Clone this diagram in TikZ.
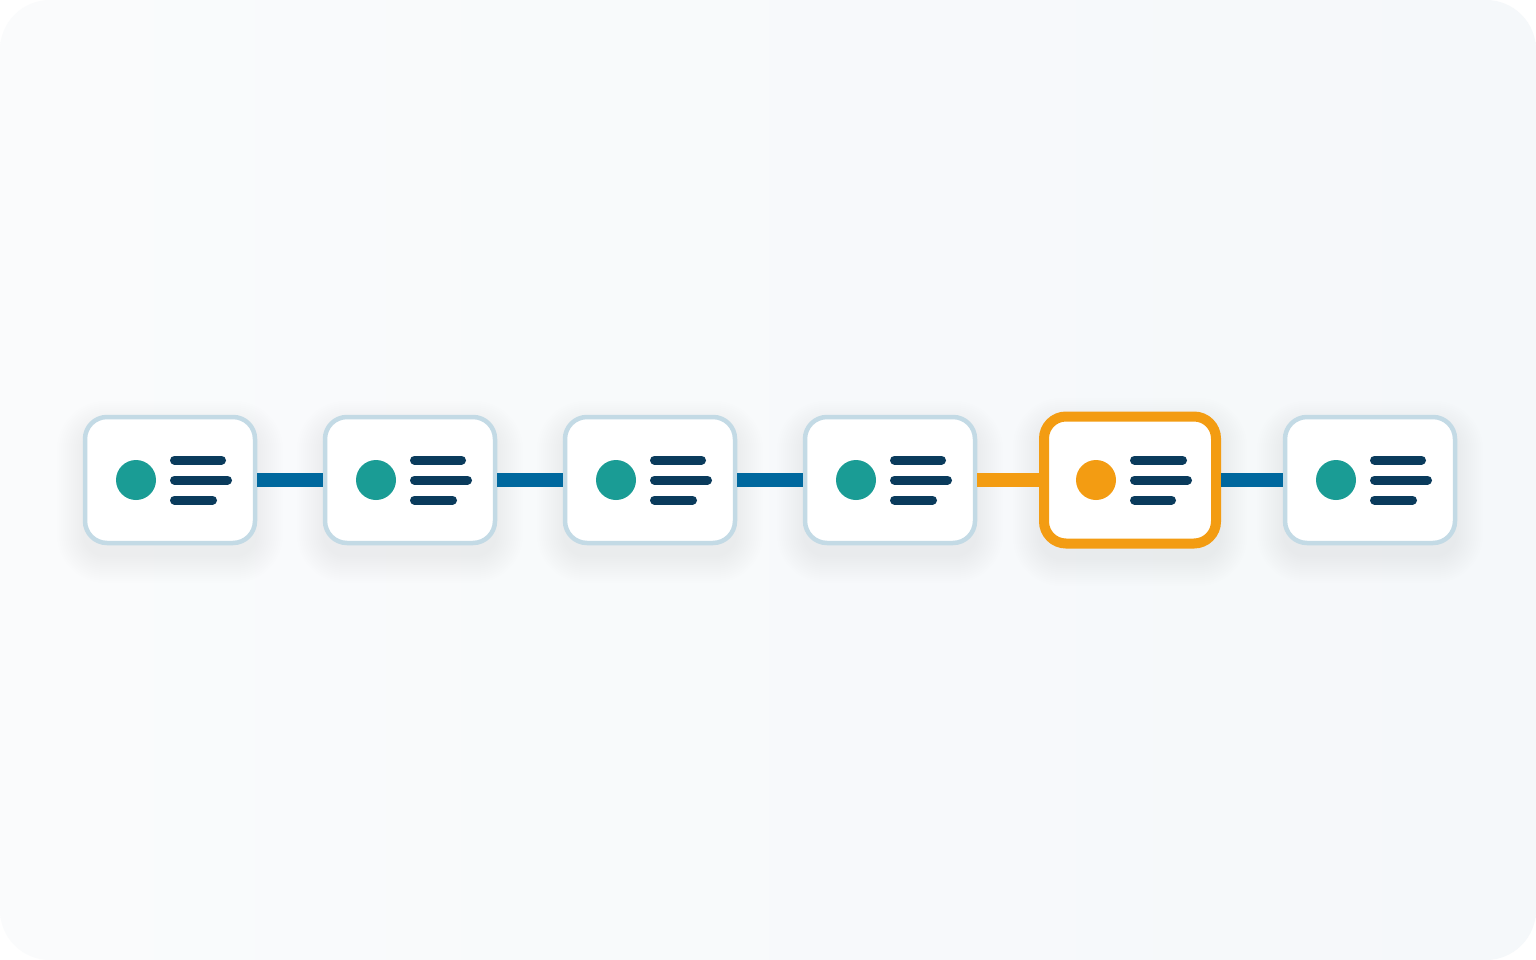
\documentclass[tikz,border=0pt]{standalone}
\definecolor{pagebg}{HTML}{FAFBFC}
\definecolor{pagebgend}{HTML}{F5F8FA}
\definecolor{cardedge}{HTML}{C3DAE5}
\definecolor{linkblue}{HTML}{00689E}
\definecolor{activeorange}{HTML}{F39C12}
\definecolor{dotteal}{HTML}{1A9C95}
\definecolor{barnavy}{HTML}{0A3B5C}
\definecolor{shadowtint}{HTML}{1E4A66}
\tikzset{
  card/.style={draw=cardedge, line width=4.5pt, fill=white, rounded corners=22pt,
    minimum width=170pt, minimum height=126pt},
  activecard/.style={card, draw=activeorange, line width=10pt, minimum width=172pt, minimum height=127pt},
  dot/.style={circle, fill=dotteal, minimum size=40pt, inner sep=0pt},
  bar/.style={barnavy, line width=9pt, line cap=round},
  link/.style={linkblue, line width=14pt}
}
% soft shadow under a card: centre x, centre y, half width, half height
\newcommand{\softshadow}[4]{%
  \foreach \s [evaluate=\s as \r using 22+\s] in {0,2,...,26}
    \fill[shadowtint, opacity=0.004, rounded corners=\r pt]
      (#1-#3-\s,#2-#4-\s+12) rectangle (#1+#3+\s,#2+#4+\s+12);
}
\begin{document}
\begin{tikzpicture}[x=1pt,y=-1pt]
\useasboundingbox (0,0) rectangle (1536,960);
\fill[white] (0,0) rectangle (1536,960);
\shade[rounded corners=50pt, shading angle=120, left color=pagebg, right color=pagebgend] (0,0) rectangle (1536,960);

% the cards
\foreach \i/\x in {1/170,2/410,3/650,4/890,6/1370}{
  \softshadow{\x}{480}{87}{65}
  \node[card] (c\i) at (\x,480) {};
  \node[dot] (d\i) at (\x-34,480) {};
  \draw[bar] (\x+4.5,460) -- (\x+51.5,460);
  \draw[bar] (\x+4.5,480) -- (\x+57.5,480);
  \draw[bar] (\x+4.5,500) -- (\x+42.5,500);
}
\softshadow{1130}{480}{91}{68}
\node[activecard] (c5) at (1130,480) {};
\node[dot, fill=activeorange] (d5) at (1096,480) {};
\draw[bar] (1134.5,460) -- (1182.5,460);
\draw[bar] (1134.5,480) -- (1187.5,480);
\draw[bar] (1134.5,500) -- (1171.5,500);

% links
\foreach \a/\b in {1/2,2/3,3/4,5/6} \draw[link] (c\a.east) -- (c\b.west);
\draw[link, activeorange] (c4.east) -- (c5.west);
\end{tikzpicture}
\end{document}
